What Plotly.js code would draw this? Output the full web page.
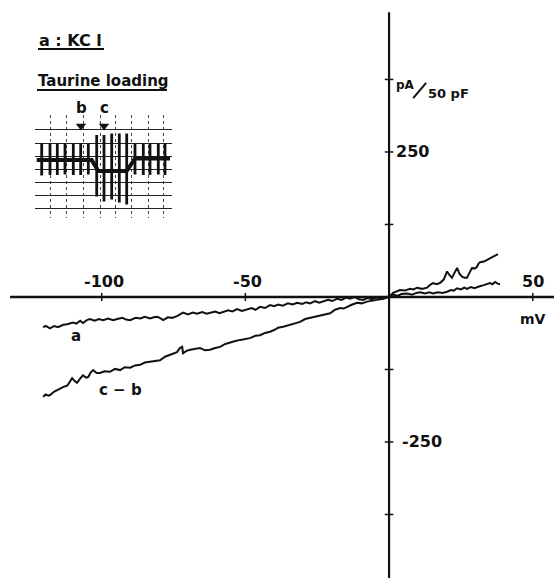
<!DOCTYPE html>
<html>
<head>
<meta charset="utf-8">
<script src="https://cdn.plot.ly/plotly-3.0.1.min.js"></script>
<style>html,body{margin:0;padding:0;background:#fff;}#chart{width:554px;height:578px;}</style>
</head>
<body>
<div id="chart"></div>
<script>
// ---- main I-V curves (mV, pA/50 pF) ----
const aVoltage = [-120.4,-119.5,-118.0,-116.5,-115.2,-113.4,-112.0,-110.0,-108.8,-107.5,-106.5,-105.2,-104.1,-102.5,-101.0,-99.5,-97.8,-96.0,-94.6,-92.8,-91.5,-90.1,-88.2,-86.6,-85.0,-83.2,-81.9,-80.7,-79.5,-78.6,-77.0,-75.5,-73.8,-72.6,-71.7,-70.0,-68.3,-66.8,-65.0,-63.5,-62.3,-60.5,-59.0,-57.8,-56.0,-54.5,-52.9,-51.2,-49.4,-47.8,-46.5,-44.9,-43.2,-41.4,-40.0,-38.6,-37.0,-35.2,-33.5,-32.0,-30.2,-28.8,-27.5,-25.8,-24.3,-23.0,-21.2,-19.7,-18.1,-16.5,-15.0,-13.6,-12.0,-10.5,-9.0,-7.5,-6.0,-4.2,-2.5,-1.0,0,1.4,2.8,4.3,6.3,8.0,9.5,10.8,12.5,14.0,15.3,17.0,18.6,20.2,21.5,22.5,23.7,25.0,26.2,27.1,28.5,29.7,30.6,31.8,32.7,34.0,35.1,36.0,36.9,37.8,38.6];
const aCurrent = [-52,-50,-54,-50,-52,-48,-47,-44,-46,-41,-45,-40,-38,-41,-38,-40,-37,-40,-38,-36,-39,-40,-36,-37,-34,-37,-35,-34,-37,-40,-35,-36,-33,-30,-27,-30,-27,-29,-26,-29,-27,-25,-28,-26,-23,-25,-21,-24,-22,-19,-22,-17,-19,-14,-16,-13,-15,-11,-13,-10,-12,-9,-11,-7,-10,-8,-5,-7,-3,-5,-1,-3,0,-4,-5,-2,-4,-1,-3,0,1,4,2,5,6,4,7,8,6,8,6,8,7,9,12,11,15,13,16,14,17,15,17,19,20,22,24,22,26,23,22];

const cbVoltage = [-120.4,-119.5,-118.6,-118.0,-116.5,-115.2,-114.5,-113.3,-112.0,-111.0,-110.3,-109.4,-108.6,-107.4,-106.5,-105.5,-104.7,-103.8,-103.0,-101.8,-100.6,-99.0,-97.1,-95.4,-93.6,-92.0,-90.1,-88.4,-86.6,-85.0,-83.2,-81.5,-79.7,-78.0,-76.2,-75.0,-73.8,-72.8,-72.0,-71.7,-70.5,-69.2,-67.5,-65.8,-64.0,-62.3,-60.5,-58.8,-57.0,-55.3,-53.5,-51.8,-50.0,-48.4,-46.5,-44.9,-43.2,-41.4,-40.0,-38.6,-36.5,-34.4,-32.6,-31.0,-29.2,-27.5,-25.8,-24.0,-22.2,-20.5,-18.8,-17.0,-15.8,-14.6,-12.8,-11.1,-9.5,-7.7,-6.0,-4.2,-2.0,0,1.4,2.6,3.8,5.5,7.3,8.5,9.7,11.5,13.2,14.3,15.3,16.5,17.7,19.0,20.2,21.0,21.9,22.8,23.7,24.5,25.4,26.3,27.1,28.0,28.9,29.8,30.6,31.2,31.7,33.0,34.1,35.2,36.2,37.0,37.9];
const cbCurrent = [-172,-168,-170,-169,-163,-160,-157,-155,-153,-146,-140,-145,-148,-140,-135,-139,-138,-130,-126,-131,-131,-128,-129,-124,-126,-121,-122,-118,-117,-113,-112,-110,-109,-103,-100,-97,-95,-88,-86,-97,-93,-91,-90,-88,-92,-91,-88,-86,-81,-78,-76,-74,-73,-71,-67,-66,-62,-60,-57,-53,-51,-48,-46,-43,-38,-36,-34,-31,-29,-28,-22,-19,-20,-17,-13,-10,-11,-8,-7,-5,-3,0,7,9,12,11,14,13,16,14,16,21,24,22,24,30,44,38,33,42,50,40,35,33,33,42,50,49,52,58,60,61,64,66,69,71,74];

// ---- axes ticks / labels ----
const xTickVals = [-100, -50, 50];
const xTickText = ['-100', '-50', '50'];
const yTickVals = [375, 250, 125, -125, -250, -375];
const yLabelVals = [250, -250];
const yLabelText = ['250', '-250'];

// ---- inset recording (time units, relative current) ----
const baseT = [1.7, 56.7, 63.3, 91.7, 100, 135];
const baseI = [-0.5, -0.5, -11.5, -11.5, 1, 1];
const spikeT  = [6.7, 15, 22.3, 30, 38.3, 45.7, 53.3, 61.7, 69, 76.7, 84.3, 91.7, 100, 108.3, 115, 123.3, 130];
const spikeHi = [16.5, 16.5, 16.5, 16, 16.5, 16.5, 16, 24.5, 24.5, 26, 26, 26, 16, 16.5, 16.5, 16, 16.5];
const spikeLo = [-16, -15.5, -15.5, -15, -15.5, -15.5, -15, -37, -42, -40, -43, -45, -15, -15.5, -15.5, -15, -15.5];
const insetHGrid = [30.5, 16.5, 3.5, -9.5, -22.5, -35.5, -48.5];
const insetVGrid = [15.7, 31.7, 48.3, 65, 80, 96.7, 113.3, 128.3];
const markerT = [46, 69];
const markerLabels = ['b', 'c'];

const FONT = 'DejaVu Sans, Liberation Sans, sans-serif';
const X_RANGE = [-135.4, 57.4];
const Y_RANGE = [-484.5, 512];
const INSET_X = [0, 137];
const INSET_Y = [-58.5, 44.5];
const INSET_XDOM = [35/554, 172/554];
const INSET_YDOM = [1-218/578, 1-115/578];

// spikes as segments
const sx = [], sy = [];
spikeT.forEach((t, i) => { sx.push(t, t, null); sy.push(spikeLo[i], spikeHi[i], null); });

const traces = [
  {x: aVoltage, y: aCurrent, mode: 'lines', line: {color: '#111', width: 2}, hoverinfo: 'skip'},
  {x: cbVoltage, y: cbCurrent, mode: 'lines', line: {color: '#111', width: 2}, hoverinfo: 'skip'},
  {x: baseT, y: baseI, xaxis: 'x2', yaxis: 'y2', mode: 'lines', line: {color: '#111', width: 4}, hoverinfo: 'skip'},
  {x: sx, y: sy, xaxis: 'x2', yaxis: 'y2', mode: 'lines', line: {color: '#111', width: 2.8}, hoverinfo: 'skip'},
  {x: markerT, y: [33.5, 33.5], xaxis: 'x2', yaxis: 'y2', mode: 'markers', marker: {symbol: 'triangle-down', size: 9, color: '#111'}, hoverinfo: 'skip'}
];

const shapes = [
  {type: 'line', xref: 'x', yref: 'y', x0: -131.9, x1: X_RANGE[1], y0: 0, y1: 0, line: {color: '#111', width: 2.5}},
  {type: 'line', xref: 'x', yref: 'y', x0: 0, x1: 0, y0: Y_RANGE[0], y1: 491, line: {color: '#111', width: 2.2}},
  // slash of the pA/50 pF unit
  {type: 'line', xref: 'x', yref: 'y', x0: 8.4, x1: 12.9, y0: 343, y1: 369, line: {color: '#111', width: 2}},
  // underlines of the inset titles
  {type: 'line', xref: 'paper', yref: 'paper', x0: 38/554, x1: 104/554, y0: 1-49/578, y1: 1-49/578, line: {color: '#111', width: 2}},
  {type: 'line', xref: 'paper', yref: 'paper', x0: 37/554, x1: 167/554, y0: 1-90/578, y1: 1-90/578, line: {color: '#111', width: 2}}
];
xTickVals.forEach(v => shapes.push({type: 'line', xref: 'x', yref: 'y', x0: v, x1: v, y0: -7, y1: 7, line: {color: '#111', width: 1.5}}));
yTickVals.forEach(v => shapes.push({type: 'line', xref: 'x', yref: 'y', x0: -1.5, x1: 1.5, y0: v, y1: v, line: {color: '#111', width: 1.5}}));

// helpers to map inset coordinates to paper (annotations outside an axis range are hidden)
const insetPx = t => INSET_XDOM[0] + (t - INSET_X[0]) / (INSET_X[1] - INSET_X[0]) * (INSET_XDOM[1] - INSET_XDOM[0]);
const insetPy = v => INSET_YDOM[0] + (v - INSET_Y[0]) / (INSET_Y[1] - INSET_Y[0]) * (INSET_YDOM[1] - INSET_YDOM[0]);

const ann = [];
const bf = (s, size) => ({text: '<b>' + s + '</b>', font: {family: FONT, size: size, color: '#111'}, showarrow: false});
xTickVals.forEach((v, i) => ann.push(Object.assign(bf(xTickText[i], 16), {x: v, y: 0, xref: 'x', yref: 'y', xanchor: 'center', yanchor: 'bottom', yshift: 4, xshift: v < 0 ? 2 : 0})));
yLabelVals.forEach((v, i) => ann.push(Object.assign(bf(yLabelText[i], 16), {x: 0, y: v, xref: 'x', yref: 'y', xanchor: 'left', yanchor: 'middle', xshift: 5 + (v < 0 ? 6 : 0)})));
ann.push(Object.assign(bf('mV', 14), {x: X_RANGE[1], y: 0, xref: 'x', yref: 'y', xanchor: 'right', yanchor: 'top', xshift: -6, yshift: -12}));
ann.push(Object.assign(bf('pA', 12), {x: 0, y: 375, xref: 'x', yref: 'y', xanchor: 'left', yanchor: 'middle', xshift: 5, yshift: -6}));
ann.push(Object.assign(bf('50 pF', 13), {x: 0, y: 375, xref: 'x', yref: 'y', xanchor: 'left', yanchor: 'middle', xshift: 37, yshift: -14}));
ann.push(Object.assign(bf('a', 15), {x: aVoltage[8], y: aCurrent[8], xref: 'x', yref: 'y', xanchor: 'center', yanchor: 'middle', yshift: -12}));
ann.push(Object.assign(bf('c \u2212 b', 15), {x: cbVoltage[24], y: cbCurrent[24], xref: 'x', yref: 'y', xanchor: 'center', yanchor: 'middle', yshift: -20}));
ann.push(Object.assign(bf('a : KC l', 16), {x: 37/554, y: 1-41/578, xref: 'paper', yref: 'paper', xanchor: 'left', yanchor: 'middle'}));
ann.push(Object.assign(bf('Taurine loading', 15), {x: 36/554, y: 1-81/578, xref: 'paper', yref: 'paper', xanchor: 'left', yanchor: 'middle'}));
markerT.forEach((t, i) => ann.push(Object.assign(bf(markerLabels[i], 15), {x: insetPx(t), y: insetPy(51.5), xref: 'paper', yref: 'paper', xanchor: 'center', yanchor: 'middle'})));

const layout = {
  width: 554, height: 578, autosize: false,
  margin: {l: 0, r: 0, t: 0, b: 0},
  paper_bgcolor: '#fff', plot_bgcolor: 'rgba(0,0,0,0)',
  showlegend: false,
  xaxis: {range: X_RANGE, visible: false, fixedrange: true},
  yaxis: {range: Y_RANGE, visible: false, fixedrange: true},
  xaxis2: {domain: INSET_XDOM, anchor: 'y2', range: INSET_X, showticklabels: false, ticks: '', zeroline: false,
           tickmode: 'array', tickvals: insetVGrid, showgrid: true, gridcolor: '#444', griddash: 'dot', gridwidth: 1, showline: false},
  yaxis2: {domain: INSET_YDOM, anchor: 'x2', range: INSET_Y, showticklabels: false, ticks: '', zeroline: false,
           tickmode: 'array', tickvals: insetHGrid, showgrid: true, gridcolor: '#222', gridwidth: 1, showline: false},
  shapes: shapes,
  annotations: ann
};

Plotly.newPlot('chart', traces, layout, {staticPlot: true, displayModeBar: false});
</script>
</body>
</html>
